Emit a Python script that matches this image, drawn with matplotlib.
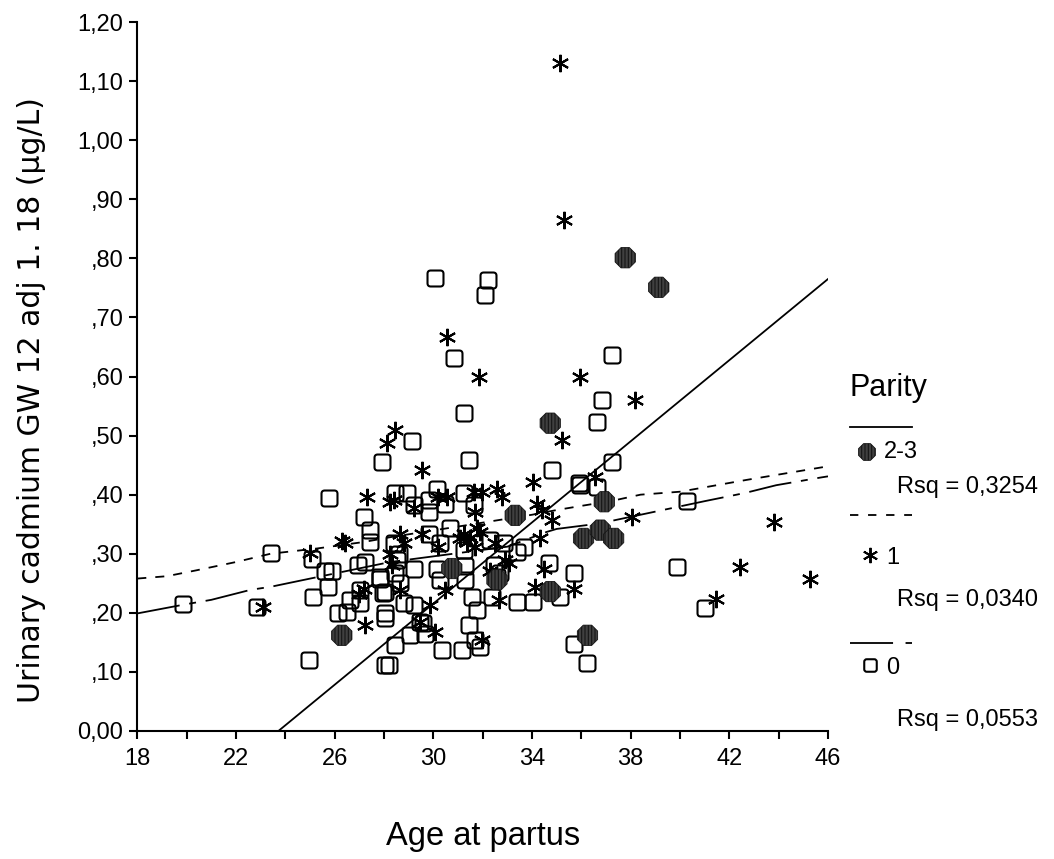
import matplotlib
matplotlib.use('Agg')
import matplotlib.pyplot as plt
from matplotlib.path import Path
from matplotlib.ticker import FixedLocator

plt.rcParams['font.family'] = ['Liberation Sans', 'DejaVu Sans']
plt.rcParams['lines.scale_dashes'] = False
plt.rcParams['hatch.linewidth'] = 0.8

# Parity 2-3 (filled circles)
p23_x = [26.29, 30.75, 32.58, 33.32, 34.74, 34.74, 36.09, 36.77, 37.31, 36.93, 36.25, 37.78, 39.14]
p23_y = [0.162, 0.275, 0.256, 0.365, 0.521, 0.236, 0.326, 0.340, 0.326, 0.388, 0.162, 0.801, 0.751]

# Parity 1 (stars)
p1_x = [23.10, 25.00, 26.43, 26.30, 27.17, 27.00, 27.24, 27.31, 28.12, 28.25, 28.45, 29.54, 35.22,
        36.57, 34.06, 34.20, 34.40, 34.81, 38.06, 34.34, 34.47, 35.69, 34.13, 32.65, 31.97, 30.08,
        29.47, 29.87, 28.66, 30.48, 28.66, 28.80, 28.25, 29.54, 30.21, 31.09, 31.36, 31.50, 31.90,
        31.70, 32.51, 32.92, 33.05, 32.31, 28.39, 29.20, 30.21, 30.55, 31.63, 31.97, 31.70, 32.58,
        32.78, 31.77, 31.23, 28.33, 35.15, 35.31, 30.55, 35.96, 38.19, 43.80, 42.45, 45.29, 41.44,
        31.85]
p1_y = [0.210, 0.302, 0.318, 0.322, 0.241, 0.232, 0.179, 0.396, 0.487, 0.388, 0.509, 0.442, 0.492,
        0.430, 0.422, 0.385, 0.374, 0.357, 0.363, 0.326, 0.275, 0.241, 0.244, 0.222, 0.154, 0.168,
        0.185, 0.213, 0.238, 0.239, 0.334, 0.318, 0.300, 0.334, 0.312, 0.326, 0.320, 0.326, 0.337,
        0.312, 0.318, 0.289, 0.284, 0.270, 0.391, 0.377, 0.396, 0.396, 0.405, 0.405, 0.371, 0.410,
        0.396, 0.343, 0.334, 0.281, 1.130, 0.865, 0.667, 0.600, 0.560, 0.354, 0.278, 0.258, 0.223,
        0.600]

# Parity 0 (squares)
p0_x = [19.87, 22.84, 23.41, 24.97, 25.07, 25.14, 25.79, 25.60, 25.88, 25.75, 26.15, 26.49, 26.63,
        27.03, 27.03, 27.17, 27.44, 27.44, 26.96, 27.24, 27.85, 27.98, 28.05, 28.05, 27.91, 36.84,
        36.64, 31.23, 29.13, 31.43, 34.81, 37.24, 35.89, 36.64, 34.67, 35.69, 35.15, 34.06, 33.39,
        35.69, 36.23, 32.38, 32.58, 31.77, 31.57, 31.43, 31.70, 31.90, 31.16, 30.35, 29.47, 29.06,
        28.45, 28.19, 29.60, 29.20, 28.80, 28.66, 30.28, 30.14, 31.30, 31.30, 29.20, 28.45, 28.52,
        27.85, 28.05, 28.05, 28.39, 28.59, 29.81, 30.69, 30.28, 31.23, 32.31, 32.85, 33.39, 33.66,
        32.44, 32.71, 28.45, 28.93, 29.20, 29.81, 29.81, 30.14, 30.48, 31.23, 31.63, 29.67, 30.08,
        32.21, 32.10, 30.85, 37.24, 40.29, 39.88, 41.03, 35.96]
p0_y = [0.215, 0.210, 0.302, 0.120, 0.291, 0.227, 0.394, 0.270, 0.270, 0.244, 0.199, 0.202, 0.222,
        0.239, 0.216, 0.363, 0.340, 0.320, 0.281, 0.286, 0.258, 0.233, 0.191, 0.112, 0.456, 0.560,
        0.523, 0.538, 0.490, 0.459, 0.442, 0.456, 0.419, 0.413, 0.284, 0.267, 0.227, 0.219, 0.219,
        0.148, 0.115, 0.227, 0.260, 0.205, 0.227, 0.179, 0.154, 0.143, 0.137, 0.137, 0.185, 0.162,
        0.146, 0.112, 0.182, 0.213, 0.216, 0.250, 0.256, 0.275, 0.256, 0.280, 0.275, 0.267, 0.289,
        0.261, 0.236, 0.200, 0.318, 0.300, 0.334, 0.343, 0.318, 0.306, 0.323, 0.318, 0.303, 0.312,
        0.281, 0.267, 0.402, 0.402, 0.382, 0.391, 0.371, 0.410, 0.385, 0.402, 0.382, 0.165, 0.766,
        0.763, 0.738, 0.631, 0.636, 0.390, 0.278, 0.208, 0.416]

# fit lines
fit23_x = [23.72, 46.0]
fit23_y = [0.0, 0.765]
fit1_x = [18.0, 19.2, 20.4, 22.0, 23.4, 25.3, 27.2, 28.25, 31.0, 32.2, 34.0, 35.0, 36.0, 37.3, 38.4, 40.0, 42.7, 46.0]
fit1_y = [0.258, 0.262, 0.272, 0.286, 0.300, 0.309, 0.320, 0.328, 0.346, 0.354, 0.366, 0.374, 0.381, 0.390, 0.400, 0.405, 0.425, 0.448]
fit0_x = [18.0, 19.9, 21.0, 22.6, 23.4, 25.7, 28.25, 33.0, 34.6, 35.0, 36.7, 38.06, 41.0, 42.65, 43.9, 45.7, 46.0]
fit0_y = [0.199, 0.214, 0.222, 0.239, 0.244, 0.264, 0.286, 0.312, 0.337, 0.342, 0.351, 0.363, 0.389, 0.403, 0.416, 0.429, 0.431]

legend_labels = ['2-3', '1', '0']
rsq_labels = ['Rsq = 0,3254', 'Rsq = 0,0340', 'Rsq = 0,0553']
yticks = [0.0, 0.1, 0.2, 0.3, 0.4, 0.5, 0.6, 0.7, 0.8, 0.9, 1.0, 1.1, 1.2]
ytick_labels = ['0,00', ',10', ',20', ',30', ',40', ',50', ',60', ',70', ',80', ',90', '1,00', '1,10', '1,20']
xticks = [18, 22, 26, 30, 34, 38, 42, 46]

W, H = 1054, 859

def fxy(px, py):
    return px / W, 1 - py / H

# rounded square marker
r = 0.4
sq = Path([(-1 + r, -1), (1 - r, -1), (1, -1), (1, -1 + r), (1, 1 - r), (1, 1), (1 - r, 1),
           (-1 + r, 1), (-1, 1), (-1, 1 - r), (-1, -1 + r), (-1, -1), (-1 + r, -1), (-1 + r, -1)],
          [Path.MOVETO, Path.LINETO, Path.CURVE3, Path.CURVE3, Path.LINETO, Path.CURVE3, Path.CURVE3,
           Path.LINETO, Path.CURVE3, Path.CURVE3, Path.LINETO, Path.CURVE3, Path.CURVE3, Path.CLOSEPOLY])

fig = plt.figure(figsize=(W / 100, H / 100), dpi=100)
ax = fig.add_axes([137.3 / W, (H - 731) / H, (828 - 137.3) / W, (731 - 22) / H])

dash1 = (0, (6.5, 6.5))
dash0 = (0, (31, 7, 5, 7))

ax.plot(fit23_x, fit23_y, color='black', lw=1.3, zorder=2)
ax.plot(fit1_x, fit1_y, color='black', lw=1.3, ls=dash1, zorder=2)
ax.plot(fit0_x, fit0_y, color='black', lw=1.3, ls=dash0, zorder=2)

ax.plot(p0_x, p0_y, ls='none', marker=sq, ms=11.5, mfc='none', mec='black', mew=1.5, zorder=3)
ax.plot(p1_x, p1_y, ls='none', marker=(6, 2, 0), ms=12.5, mec='black', mew=1.5, zorder=4)
ax.scatter(p23_x, p23_y, s=250, marker='8', facecolor='#404040', edgecolor='#151515',
           hatch='|||||', linewidth=0.6, zorder=5)

ax.set_xlim(18, 46)
ax.set_ylim(0, 1.2)
ax.xaxis.set_major_locator(FixedLocator(xticks))
ax.xaxis.set_minor_locator(FixedLocator(list(range(18, 47, 2))))
ax.set_xticklabels([str(t) for t in xticks])
ax.yaxis.set_major_locator(FixedLocator(yticks))
ax.set_yticklabels(ytick_labels)
ax.tick_params(which='both', direction='out', length=6, width=1.5, colors='black')
ax.tick_params(axis='x', which='minor', length=6)
ax.tick_params(axis='y', labelsize=17, pad=4)
ax.tick_params(axis='x', labelsize=17, pad=6)
for s in ['top', 'right']:
    ax.spines[s].set_visible(False)
for s in ['left', 'bottom']:
    ax.spines[s].set_linewidth(1.5)

ax.set_xlabel('Age at partus', fontsize=23.5, va='center')
ax.xaxis.set_label_coords(0.5, (731 - 837) / 709)
ax.set_ylabel('Urinary cadmium GW 12 adj 1. 18 (µg/L)', fontsize=21.5, family=['DejaVu Sans'], va='center')
ax.yaxis.set_label_coords((32 - 137.3) / 690.7, (731 - 400) / 709)

# legend, drawn by hand like the original
tf = fig.transFigure
fig.text(*fxy(850, 388), 'Parity', fontsize=22, va='center', ha='left')
ax.plot(*zip(fxy(850, 427), fxy(912, 427)), color='black', lw=1.3, transform=tf, clip_on=False)
ax.scatter(*fxy(867, 452), s=170, marker='8', facecolor='#404040', edgecolor='#151515',
           hatch='|||||', linewidth=0.6, transform=tf, clip_on=False)
fig.text(*fxy(884, 452), legend_labels[0], fontsize=17, va='center')
fig.text(*fxy(897, 487), rsq_labels[0], fontsize=17, va='center')
ax.plot(*zip(fxy(850, 515), fxy(912, 515)), color='black', lw=1.3, ls=(0, (6, 7)), transform=tf, clip_on=False)
ax.plot(*fxy(870, 555), marker=(6, 2, 0), ms=11, mec='black', mew=1.4, transform=tf, clip_on=False)
fig.text(*fxy(886, 558), legend_labels[1], fontsize=17, va='center')
fig.text(*fxy(897, 600), rsq_labels[1], fontsize=17, va='center')
ax.plot(*zip(fxy(850, 643), fxy(912, 643)), color='black', lw=1.3, ls=(0, (31, 9, 5, 9)), transform=tf, clip_on=False)
ax.plot(*fxy(870, 665), marker=sq, ms=9, mfc='none', mec='black', mew=1.5, transform=tf, clip_on=False)
fig.text(*fxy(886, 668), legend_labels[2], fontsize=17, va='center')
fig.text(*fxy(897, 720), rsq_labels[2], fontsize=17, va='center')

fig.savefig('out.png', dpi=100)
